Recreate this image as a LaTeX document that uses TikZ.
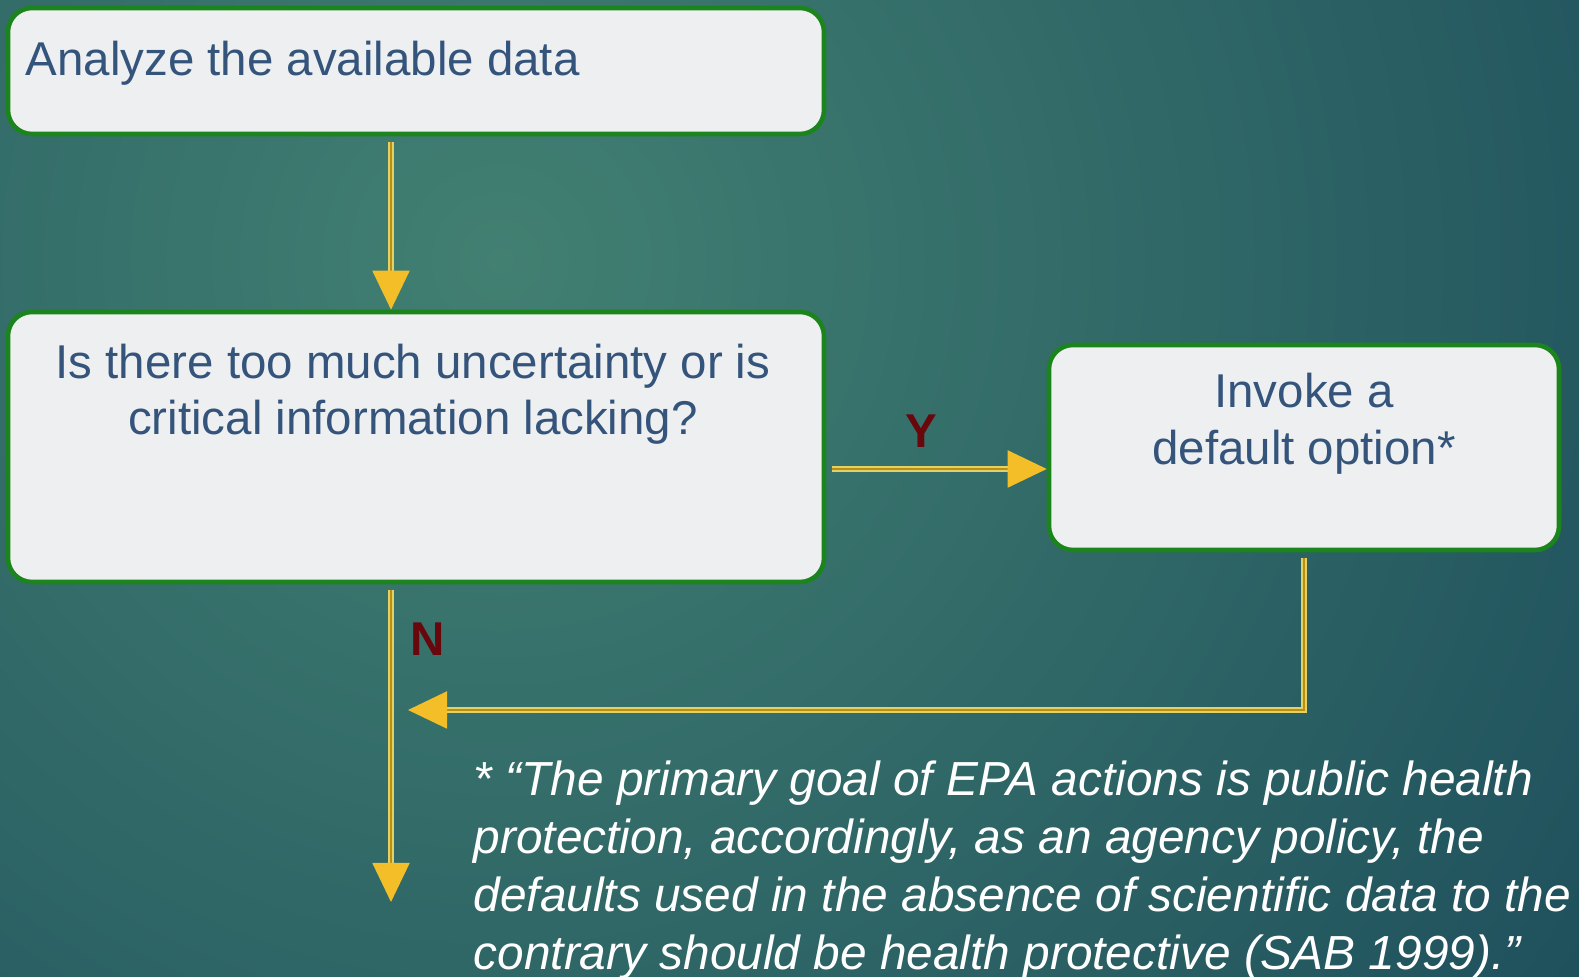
\documentclass[tikz,border=0pt]{standalone}
\usepackage{fontspec}
\setmainfont{Liberation Sans}
\usepackage{xcolor}
\usetikzlibrary{arrows.meta, positioning, calc}

\definecolor{bgInner}{RGB}{66,128,114}
\definecolor{bgOuter}{RGB}{20,66,86}
\definecolor{boxFill}{RGB}{238,239,240}
\definecolor{boxEdge}{RGB}{28,132,28}
\definecolor{boxText}{RGB}{52,84,124}
\definecolor{goldLight}{RGB}{228,208,100}
\definecolor{goldDark}{RGB}{184,144,20}
\definecolor{goldTip}{RGB}{244,190,40}
\definecolor{answer}{RGB}{105,8,12}

\begin{document}
\begin{tikzpicture}[
    % Styles for the flow chart
    stepbox/.style={draw=boxEdge, line width=1.3pt, fill=boxFill, rounded corners=0.24cm, inner sep=0pt},
    boxtext/.style={text=boxText, font=\fontsize{13.5}{15.8}\selectfont, inner sep=0pt, align=center},
    flow/.style={draw=goldLight, line width=0.55pt, double=goldDark, double distance=0.65pt,
        -{Triangle[width=0.37cm, length=0.39cm, fill=goldTip, color=goldTip]}},
    answerlabel/.style={text=answer, font=\fontsize{13.5}{16}\selectfont\bfseries, inner sep=0pt}
]

    % 0. Background (teal, lighter round the upper middle)
    \useasboundingbox (0,0) rectangle (15.79,-9.77);
    \clip (0,0) rectangle (15.79,-9.77);
    \shade[inner color=bgInner, outer color=bgOuter] (5.0,-2.6) circle (17cm);

    % 1. The boxes
    \node[stepbox, minimum width=8.16cm, minimum height=1.26cm] (analyze) at (4.16,-0.71) {};
    \node[boxtext, anchor=west] (analyzeT) at (0.25,-0.63) {Analyze the available data};

    \node[stepbox, minimum width=8.16cm, minimum height=2.70cm] (question) at (4.16,-4.47) {};
    \node[boxtext] (questionT) at (4.13,-3.945)
        {Is there too much uncertainty or is\\critical information lacking?};

    \node[stepbox, minimum width=5.10cm, minimum height=2.05cm] (invoke) at (13.04,-4.475) {};
    \node[boxtext, font=\fontsize{13.5}{16.3}\selectfont] (invokeT) at (13.04,-4.24)
        {Invoke a\\default option*};

    % 2. Helper coordinates for the connectors
    \coordinate (mid) at (3.91,0);
    \coordinate (yrow) at (0,-4.69);
    \coordinate (merge) at (4.08,-7.10);
    \coordinate (exit) at (3.91,-9.02);

    % 3. The connectors
    \draw[flow, shorten <=1.5pt] (analyze.south -| mid) -- (question.north -| mid);
    \draw[flow, shorten <=1.5pt] (question.east |- yrow) -- (invoke.west |- yrow);
    \draw[flow, shorten <=1.5pt] (question.south -| mid) -- (exit);
    \draw[flow, shorten <=1.5pt] (invoke.south) |- (merge);

    % 4. Answer labels
    \node[answerlabel] (yes) at (9.21,-4.31) {Y};
    \node[answerlabel] (no) at (4.28,-6.39) {N};

    % 5. Footnote (quotation)
    \node[anchor=north west, inner sep=0pt, align=left, text=white,
          font=\fontsize{13.6}{16.5}\selectfont\itshape] (quote) at (4.73,-7.60)
        {* “The primary goal of EPA actions is public health\\
         protection, accordingly, as an agency policy, the\\
         defaults used in the absence of scientific data to the\\
         contrary should be health protective (SAB 1999).”};

\end{tikzpicture}
\end{document}
